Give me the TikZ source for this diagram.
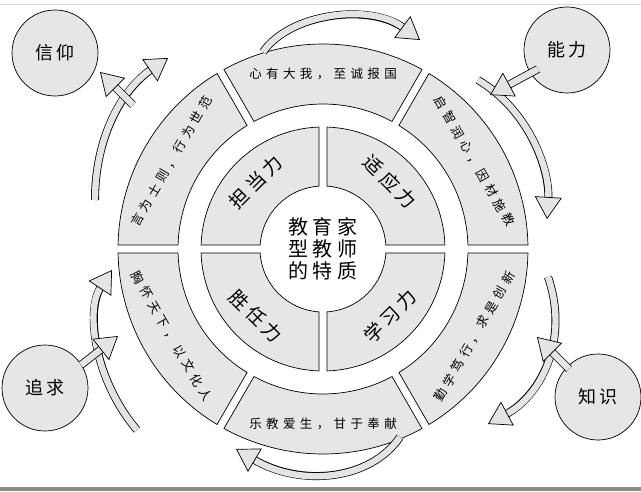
\documentclass[tikz,border=0pt]{standalone}
\usepackage{fontspec}
\setmainfont{Noto Sans CJK SC}
\newfontfamily\spaced[LetterSpace=35]{Noto Sans CJK SC}
\newfontfamily\spacedb[LetterSpace=22]{Noto Sans CJK SC}
\usetikzlibrary{calc,arrows.meta}
\definecolor{sgray}{HTML}{E6E6E6}
\definecolor{agray}{HTML}{E4E4E4}
\newcommand\seg[4]{%
 \filldraw[segstyle] ($(O)+({#1+asin(4/#4)}:#4)$) arc[start angle={#1+asin(4/#4)}, end angle={#2-asin(4/#4)}, radius=#4]
 -- ($(O)+({#2-asin(4/#3)}:#3)$) arc[start angle={#2-asin(4/#3)}, end angle={#1+asin(4/#3)}, radius=#3] -- cycle;}
\newcommand\barrow[1]{%
 \draw[line width=8pt, black, shorten >=20pt] #1;
 \draw[line width=6.4pt, agray, -{Triangle[length=22pt 0, width=27pt 0, fill=agray, color=black, line width=0.7pt 0]}] #1;}
\begin{document}
\begin{tikzpicture}[x=1pt,y=1pt,
  segstyle/.style={fill=sgray, draw=black, line width=0.7pt},
  corner/.style={circle, draw=black, fill=sgray, line width=0.7pt, minimum size=86pt, inner sep=0pt, font=\spacedb\fontsize{18}{18}\selectfont},
  outtxt/.style={font=\spaced\fontsize{12.5}{12.5}\selectfont, inner sep=1pt},
  intxt/.style={font=\spacedb\fontsize{19}{19}\selectfont, inner sep=1pt}]
\useasboundingbox (0,0) rectangle (641,491);
\fill[white] (0,0) rectangle (641,491);
\draw[black!15, line width=1pt] (0,486) -- (641,486);
\fill[black!45] (0,0) rectangle (641,4);
\coordinate (O) at (323,242);
% inner ring
\seg{0}{90}{63}{122}
\seg{90}{180}{63}{122}
\seg{180}{270}{63}{122}
\seg{270}{360}{63}{122}
% outer ring
\seg{0}{60}{145}{205}
\seg{60}{120}{145}{205}
\seg{120}{180}{145}{205}
\seg{180}{240}{145}{205}
\seg{240}{300}{145}{205}
\seg{300}{360}{145}{205}
\node[intxt, rotate=-45] (s1) at ($(O)+(45:95)$) {适应力};
\node[intxt, rotate=45] (s2) at ($(O)+(135:95)$) {担当力};
\node[intxt, rotate=-45] (s3) at ($(O)+(225:95)$) {胜任力};
\node[intxt, rotate=45] (s4) at ($(O)+(315:95)$) {学习力};
\node[align=center, inner sep=1pt, font=\spacedb\fontsize{20}{22}\selectfont] (c) at (O) {教育家\\型教师\\的特质};
\node[outtxt] (t1) at ($(O)+(90:175)$) {心有大我，至诚报国};
\node[outtxt, rotate=-60] (t2) at ($(O)+(30:175)$) {启智润心，因材施教};
\node[outtxt, rotate=60] (t3) at ($(O)+(150:175)$) {言为士则，行为世范};
\node[outtxt, rotate=-60] (t4) at ($(O)+(210:175)$) {胸怀天下，以文化人};
\node[outtxt, rotate=60] (t5) at ($(O)+(330:175)$) {勤学笃行，求是创新};
\node[outtxt] (t6) at ($(O)+(270:175)$) {乐教爱生，甘于奉献};
% corner circles
\node[corner] (xy) at (55,438) {信仰};
\node[corner] (nl) at (567,441) {能力};
\node[corner] (zq) at (45,103) {追求};
\node[corner] (zs) at (598,94) {知识};
% arrows
\barrow{(263,439) .. controls (290,478) and (370,488) .. (420,451)}
\barrow{(95,291) .. controls (95,351) and (120,400) .. (168,433)}
\barrow{(133,386) -- (100,419)}
\barrow{(478,411) .. controls (530,380) and (550,320) .. (547,272)}
\barrow{(538,422) -- (490,396)}
\barrow{(548,214) .. controls (570,150) and (540,95) .. (488,67)}
\barrow{(569,122) -- (537,154)}
\barrow{(137,61) .. controls (95,110) and (85,180) .. (112,221)}
\barrow{(81,126) -- (118,155)}
\barrow{(400,54) .. controls (370,10) and (300,4) .. (236,42)}
\end{tikzpicture}
\end{document}
